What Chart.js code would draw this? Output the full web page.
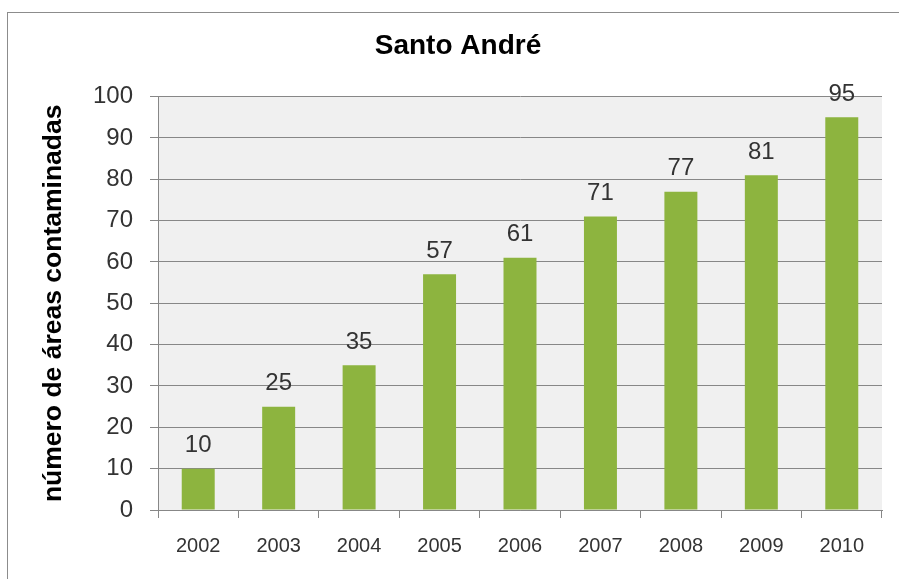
<!DOCTYPE html>
<html>
<head>
<meta charset="utf-8">
<script src="https://cdn.jsdelivr.net/npm/chart.js@4"></script>
<style>
  html, body { margin: 0; padding: 0; background: #fff; }
  #moldura { position: absolute; left: 7px; top: 12px; width: 892px; height: 567px;
             border-top: 1px solid #8c8c8c; border-left: 1px solid #8c8c8c; }
  #caixa { position: absolute; left: 0; top: 0; width: 899px; height: 579px; }
</style>
</head>
<body>
<div id="moldura"></div>
<div id="caixa"><canvas id="grafico"></canvas></div>
<script>
var anos = ['2002','2003','2004','2005','2006','2007','2008','2009','2010']
var areas = [10, 25, 35, 57, 61, 71, 77, 81, 95]
var titulo = 'Santo André'
var tituloEixo = 'número de áreas contaminadas'

// fundo cinza do plot
var fundoPlot = {
    id: 'fundoPlot',
    beforeDraw: function (chart) {
        var a = chart.chartArea
        var c = chart.ctx
        c.save()
        c.fillStyle = '#f0f0f0'
        c.fillRect(a.left, a.top, a.right - a.left, a.bottom - a.top)
        c.restore()
    }
}

// rotulos de valor em cima das barras
var rotulos = {
    id: 'rotulos',
    afterDatasetsDraw: function (chart) {
        var c = chart.ctx
        var meta = chart.getDatasetMeta(0)
        c.save()
        c.font = '24px "Liberation Sans", Arial, sans-serif'
        c.fillStyle = '#333'
        c.textAlign = 'center'
        c.textBaseline = 'bottom'
        meta.data.forEach(function (barra, i) {
            c.fillText(chart.data.datasets[0].data[i], barra.x, barra.y - 11)
        })
        c.restore()
    }
}

var ctx = document.getElementById('grafico')
var grafico = new Chart(ctx,
    {
        type: 'bar',
        data:
            {
                labels: anos,
                datasets:
                    [{
                        label: tituloEixo,
                        data: areas,
                        backgroundColor: '#8db43f',
                        barPercentage: 0.41,
                        categoryPercentage: 1
                    }]
            },
        options:
            {
                responsive: true,
                maintainAspectRatio: false,
                animation: false,
                layout: { padding: { left: 34, right: 17, top: 0, bottom: 5 } },
                plugins:
                    {
                        legend: { display: false },
                        tooltip: { enabled: false },
                        title:
                            {
                                display: true,
                                text: titulo,
                                color: '#000',
                                font: { family: '"Liberation Sans", Arial, sans-serif', size: 28, weight: 'bold', lineHeight: 1.2 },
                                padding: { top: 29, bottom: 34 }
                            }
                    },
                scales:
                    {
                        x:
                            {
                                grid: { display: true, drawOnChartArea: false, drawTicks: true, tickLength: 8, color: '#878787', offset: true },
                                border: { display: true, color: '#878787' },
                                ticks: { color: '#333', padding: 16, font: { family: '"Liberation Sans", Arial, sans-serif', size: 20 } }
                            },
                        y:
                            {
                                min: 0,
                                max: 100,
                                afterFit: function (s) { s.width = 124 },
                                grid: { color: '#878787', tickLength: 8 },
                                border: { display: true, color: '#878787' },
                                ticks: { stepSize: 10, color: '#333', padding: 17, font: { family: '"Liberation Sans", Arial, sans-serif', size: 24 } },
                                title:
                                    {
                                        display: true,
                                        text: tituloEixo,
                                        color: '#000',
                                        padding: { top: 4, bottom: 0 },
                                        font: { family: '"Liberation Sans", Arial, sans-serif', size: 26.5, weight: 'bold', lineHeight: 1.2 }
                                    }
                            }
                    }
            },
        plugins: [fundoPlot, rotulos]
    })
</script>
</body>
</html>
